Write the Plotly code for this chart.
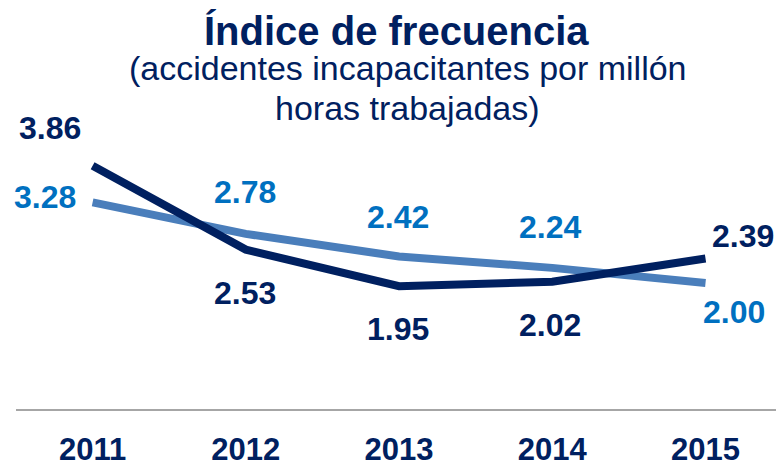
import plotly.graph_objects as go

# Data
years = ["2011", "2012", "2013", "2014", "2015"]
dark_values = [3.86, 2.53, 1.95, 2.02, 2.39]
light_values = [3.28, 2.78, 2.42, 2.24, 2.00]

# Label offsets in px (x, y up) relative to each point
dark_offsets = [(-43, 38), (-1, -43), (-1, -43), (-2, -43), (37, 22)]
light_offsets = [(-48, 5), (-1, 42), (-1, 40), (-2, 41), (28, -29)]

DARK = "#002060"
LIGHT_LINE = "#4A7EBB"
LIGHT_TEXT = "#0070C0"
FONT = "Liberation Sans, Arial, sans-serif"

fig = go.Figure()

fig.add_trace(go.Scatter(
    x=years, y=light_values, mode="lines",
    line=dict(color=LIGHT_LINE, width=8), hoverinfo="skip",
))
fig.add_trace(go.Scatter(
    x=years, y=dark_values, mode="lines",
    line=dict(color=DARK, width=8), hoverinfo="skip",
))

annotations = []
# category index used as x so "2011" isn't read as a number
for i, (v, (dx, dy)) in enumerate(zip(dark_values, dark_offsets)):
    annotations.append(dict(
        x=i, y=v, xref="x", yref="y", text=f"<b>{v:.2f}</b>", showarrow=False,
        xanchor="center", yanchor="middle", xshift=dx, yshift=dy,
        font=dict(family=FONT, size=32, color=DARK),
    ))
for i, (v, (dx, dy)) in enumerate(zip(light_values, light_offsets)):
    annotations.append(dict(
        x=i, y=v, xref="x", yref="y", text=f"<b>{v:.2f}</b>", showarrow=False,
        xanchor="center", yanchor="middle", xshift=dx, yshift=dy,
        font=dict(family=FONT, size=32, color=LIGHT_TEXT),
    ))

# Title and subtitle (text, size, y px from top, x shift)
titles = [
    ("<b>Índice de frecuencia</b>", 40, 31, 0),
    ("(accidentes incapacitantes por millón", 34, 68, 12),
    ("horas trabajadas)", 34, 108, 11),
]
for txt, size, ypx, xs in titles:
    annotations.append(dict(
        x=0.5, y=(409 - ypx) / 409, xref="paper", yref="paper",
        xanchor="center", yanchor="middle", xshift=xs,
        text=txt, showarrow=False,
        font=dict(family=FONT, size=size, color=DARK),
    ))

fig.update_layout(
    width=776, height=466,
    margin=dict(l=16, r=0, t=0, b=57),
    paper_bgcolor="white", plot_bgcolor="white",
    showlegend=False,
    annotations=annotations,
    xaxis=dict(
        type="category", range=[-0.5, 4.46],
        showgrid=False, zeroline=False, automargin=False,
        showline=True, linecolor="#A6A6A6", linewidth=2,
        ticks="", ticklabelstandoff=12,
        tickfont=dict(family=FONT, size=31, color=DARK),
        tickprefix="<b>", ticksuffix="</b>",
    ),
    yaxis=dict(
        range=[0, 409 / 63], visible=False,
        showgrid=False, zeroline=False,
    ),
)

fig.write_html("out.html", config={"displayModeBar": False},
               post_script="document.body.style.margin='0';")
